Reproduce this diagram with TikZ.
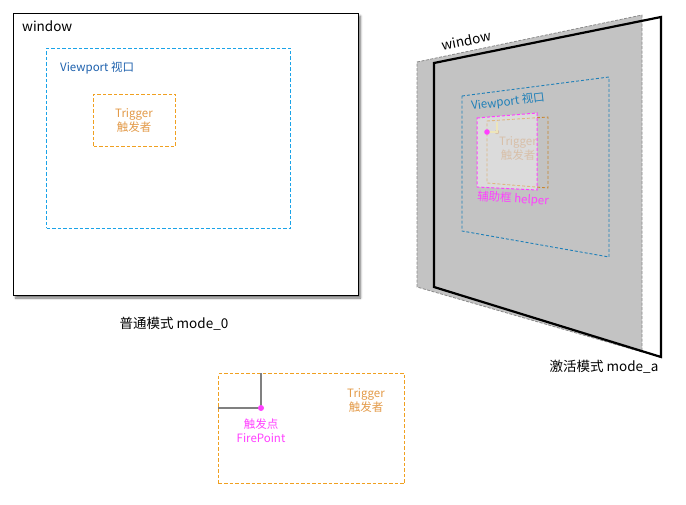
\documentclass[tikz,border=0pt]{standalone}
\usepackage{fontspec}
\setmainfont{Noto Sans CJK SC}
\usetikzlibrary{shadows.blur}
\definecolor{vpblue}{HTML}{1AA3E8}
\definecolor{vpdark}{HTML}{1F62AE}
\definecolor{vpquad}{HTML}{1E7FB8}
\definecolor{trig}{HTML}{F0A020}
\definecolor{trigtext}{HTML}{E39A48}
\definecolor{trigquad}{HTML}{C8862E}
\definecolor{trigfade}{HTML}{BF9670}
\definecolor{mag}{HTML}{FF40FF}
\definecolor{panel}{HTML}{C3C3C3}
\definecolor{panelborder}{HTML}{8A8A8A}
\definecolor{firegray}{HTML}{808080}
\definecolor{helpline}{HTML}{E2D48C}
\tikzset{
  lbl/.style={font=\fontsize{11.5}{14}\selectfont, inner sep=0pt, align=center},
  biglbl/.style={font=\fontsize{13.5}{16}\selectfont, inner sep=0pt},
  dashbox/.style={dash pattern=on 3.5pt off 2pt, line width=1pt},
}
\begin{document}
\begin{tikzpicture}[x=1pt,y=-1pt]
\useasboundingbox (0,0) rectangle (686,505);
% ---------- normal mode ----------
\node[draw=black, line width=1pt, fill=white, minimum width=345pt, minimum height=282pt,
      anchor=north west, inner sep=0pt,
      blur shadow={shadow xshift=2pt, shadow yshift=-2.5pt, shadow blur steps=6, shadow opacity=55}]
  (win) at (13,13) {};
\node[biglbl, anchor=west] (wintext) at (22,26) {window};
\node[draw=vpblue, dashbox, minimum width=244pt, minimum height=180pt, anchor=north west, inner sep=0pt]
  (vp) at (46,48) {};
\node[lbl, text=vpdark, anchor=west] (vptext) at (60,68) {Viewport 视口};
\node[draw=trig, dashbox, minimum width=82pt, minimum height=52pt, anchor=north west, inner sep=0pt]
  (trg) at (93,94) {};
\node[lbl, text=trigtext] (trgtext) at (134,120.5) {Trigger\\触发者};
\node[biglbl] (mode0) at (174,324) {普通模式 mode\_0};

% ---------- active mode ----------
\coordinate (p1) at (417,62);
\coordinate (p2) at (642,15);
\coordinate (p3) at (642,352);
\coordinate (p4) at (417,287);
\fill[panel] (p1) -- (p2) -- (p3) -- (p4) -- cycle;
\draw[panelborder, dash pattern=on 3pt off 1.5pt, line width=0.8pt] (p1) -- (p2) -- (p3) -- (p4) -- cycle;
\coordinate (w1) at (434,63);
\coordinate (w2) at (661,17);
\coordinate (w3) at (661,357);
\coordinate (w4) at (434,287);
\draw[black, line width=2.2pt, line join=miter] (w1) -- (w2) -- (w3) -- (w4) -- cycle;
\node[biglbl, rotate=11.5] (wintext2) at (466,40.5) {window};
% viewport quad
\coordinate (v1) at (462,96);
\coordinate (v2) at (609,77);
\coordinate (v3) at (609,257);
\coordinate (v4) at (462,231);
\draw[vpquad, dash pattern=on 3pt off 2pt, line width=0.9pt] (v1) -- (v2) -- (v3) -- (v4) -- cycle;
\node[lbl, text=vpquad, rotate=7] (vptext2) at (508,102) {Viewport 视口};
% trigger quad
\coordinate (t1) at (487,121);
\coordinate (t2) at (548,117);
\coordinate (t3) at (548,188);
\coordinate (t4) at (487,183);
\draw[trigquad, dash pattern=on 3pt off 2pt, line width=0.9pt] (t1) -- (t2) -- (t3) -- (t4) -- cycle;
\node[lbl, text=trigfade] (trgtext2) at (518,149) {Trigger\\触发者};
\coordinate (ft) at (497,122);
\coordinate (fl) at (487,132);
\fill[trigfade] (497,132) circle (2.2pt) coordinate (fp2);
\draw[helpline, line width=1.2pt] (ft) -- (fp2) -- (fl);
% helper quad
\coordinate (h1) at (477,118);
\coordinate (h2) at (537,113);
\coordinate (h3) at (537,190);
\coordinate (h4) at (477,187);
\fill[white, opacity=0.4] (h1) -- (h2) -- (h3) -- (h4) -- cycle;
\draw[mag, dash pattern=on 3pt off 2pt, line width=1pt] (h1) -- (h2) -- (h3) -- (h4) -- cycle;
\fill[mag] (fl) circle (2.8pt);
\node[lbl, text=mag, rotate=-4] (helpertext) at (513,199) {辅助框 helper};
\node[biglbl] (modea) at (604,367) {激活模式 mode\_a};

% ---------- fire point ----------
\node[draw=trig, dashbox, minimum width=186pt, minimum height=110pt, anchor=north west, inner sep=0pt]
  (fbox) at (218,373) {};
\coordinate (ftop) at (261,373);
\coordinate (fleft) at (218,408);
\coordinate (fpt) at (261,408);
\draw[firegray, line width=1.4pt] (ftop) -- (fpt) -- (fleft);
\fill[mag] (fpt) circle (3pt);
\node[lbl, text=mag] (firetext) at (261,431) {触发点\\FirePoint};
\node[lbl, text=trigtext] (trgtext3) at (366,401) {Trigger\\触发者};
\end{tikzpicture}
\end{document}
